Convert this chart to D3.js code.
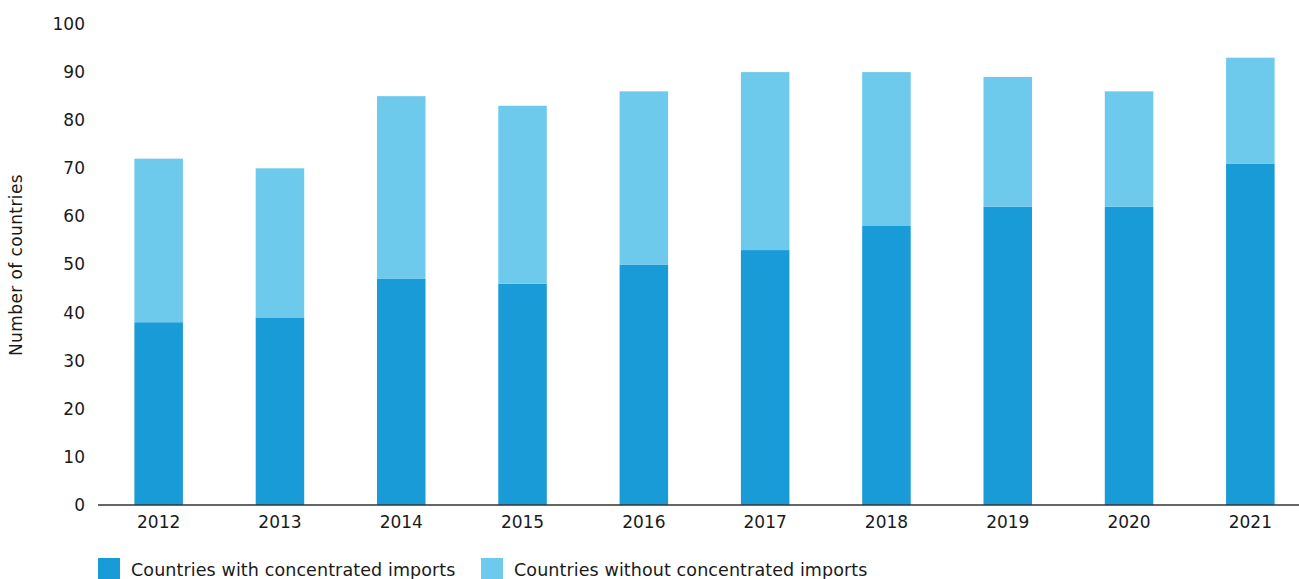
<!DOCTYPE html>
<html><head><meta charset="utf-8">
<script src="https://cdn.jsdelivr.net/npm/d3@7"></script>
<style>body{margin:0;background:#fff;} text{font-family:"DejaVu Sans",sans-serif;fill:#1a1a1a;}</style>
</head><body><svg id="c" width="1299" height="579"></svg>
<script>
const years = ["2012","2013","2014","2015","2016","2017","2018","2019","2020","2021"];
const withConc = [38,39,47,46,50,53,58,62,62,71];
const totalCountries = [72,70,85,83,86,90,90,89,86,93];
const yTicks = [0,10,20,30,40,50,60,70,80,90,100];
const seriesNames = ["Countries with concentrated imports","Countries without concentrated imports"];
const colors = ["#189bd7","#6dcaec"];

const withoutConc = totalCountries.map((t,i)=>t-withConc[i]);
const svg = d3.select("#c");
const x = d3.scaleBand().domain(years).range([98,1311]).paddingInner(0.6).paddingOuter(0.3);
const y = d3.scaleLinear().domain([0,100]).range([505,24]);

const data = years.map((yr,i)=>({year:yr, a:withConc[i], b:withoutConc[i]}));
const stack = d3.stack().keys(["a","b"])(data);
svg.selectAll("g.s").data(stack).join("g").attr("class","s")
  .attr("fill",(d,i)=>colors[i])
  .selectAll("rect").data(d=>d).join("rect")
  .attr("x",d=>x(d.data.year)).attr("width",x.bandwidth())
  .attr("y",d=>y(d[1])).attr("height",d=>y(d[0])-y(d[1]));

// y axis labels
const ya = svg.append("g").attr("transform","translate(85,0)")
  .call(d3.axisLeft(y).tickValues(yTicks).tickSize(0).tickPadding(0));
ya.select(".domain").remove();
ya.selectAll("text").style("font-size","17px").attr("fill","#1a1a1a");

// x axis
const xa = svg.append("g").attr("transform","translate(0,505)")
  .call(d3.axisBottom(x).tickSize(0).tickPadding(11));
xa.select(".domain").remove();
xa.selectAll("text").style("font-size","17px").attr("fill","#1a1a1a");
svg.append("line").attr("x1",98).attr("x2",1299).attr("y1",505).attr("y2",505)
  .attr("stroke","#333").attr("stroke-width",1.5);

svg.append("text").attr("transform","translate(22,265) rotate(-90)")
  .attr("text-anchor","middle").style("font-size","17px").style("letter-spacing","0.4px").text("Number of countries");

// legend
const lx = [98,481];
seriesNames.forEach((n,i)=>{
  svg.append("rect").attr("x",lx[i]).attr("y",558).attr("width",22).attr("height",22).attr("fill",colors[i]);
  svg.append("text").attr("x",lx[i]+33).attr("y",576).style("font-size","17.5px").style("letter-spacing","0.1px").text(n);
});
</script></body></html>
